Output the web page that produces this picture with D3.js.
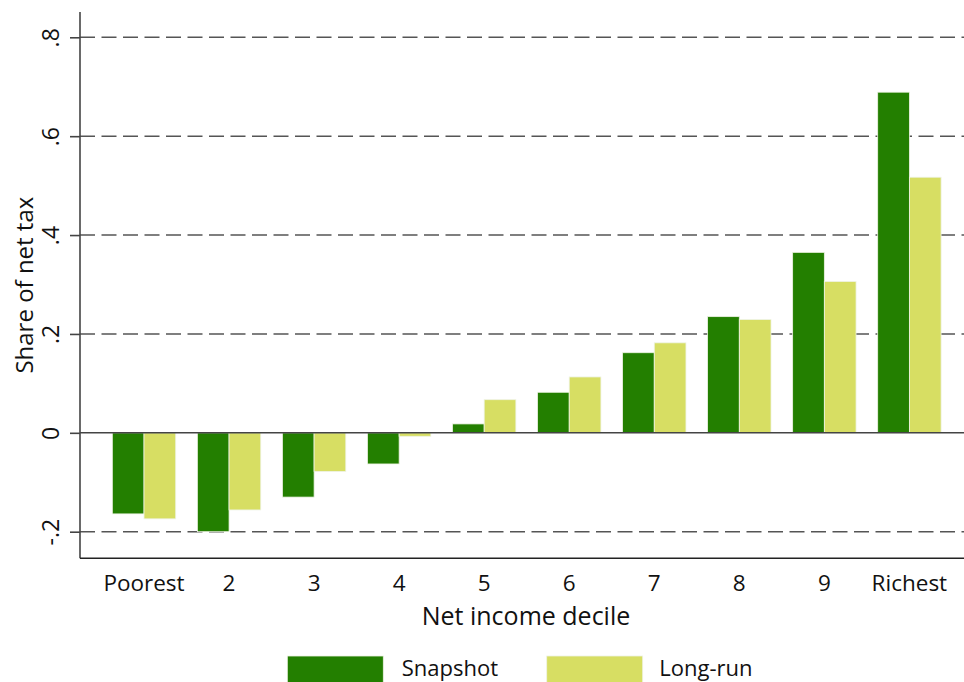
<!DOCTYPE html>
<html>
<head>
<meta charset="utf-8">
<script src="https://cdn.jsdelivr.net/npm/d3@7"></script>
<style>
  html, body { margin: 0; padding: 0; background: #fff; }
  svg { display: block; }
  text { font-family: "Open Sans", "DejaVu Sans", sans-serif; fill: #111; }
</style>
</head>
<body>
<svg id="chart" width="964" height="682"></svg>
<script>
// Net tax share by net income decile, two measures
const deciles = ["Poorest", "2", "3", "4", "5", "6", "7", "8", "9", "Richest"];
const seriesNames = ["Snapshot", "Long-run"];
const snapshot = [-0.164, -0.200, -0.130, -0.063, 0.018, 0.082, 0.162, 0.235, 0.365, 0.689];
const longRun  = [-0.174, -0.156, -0.078, -0.007, 0.067, 0.113, 0.182, 0.229, 0.306, 0.517];
const yTicks = [-0.2, 0, 0.2, 0.4, 0.6, 0.8];
const yTickLabels = ["-.2", "0", ".2", ".4", ".6", ".8"];
const colors = ["#237f00", "#d7de63"];

const svg = d3.select("#chart");
const W = 964;

// plot region
const plotLeft = 80, plotTop = 12, plotBottom = 558.3, plotRight = 973.4;

const y = d3.scaleLinear().domain([-0.2, 0.8]).range([531.7, 37.3]);

const x = d3.scaleBand()
  .domain(deciles)
  .range([plotLeft, plotRight])
  .paddingInner(0.2545)
  .paddingOuter(0.38);

const xSub = d3.scaleBand()
  .domain(seriesNames)
  .range([0, x.bandwidth()]);

const rows = deciles.map((d, i) => ({ decile: d, values: [snapshot[i], longRun[i]] }));

// dashed gridlines (zero drawn later as a solid line)
svg.append("g")
  .selectAll("line")
  .data(yTicks.filter(v => v !== 0))
  .join("line")
  .attr("x1", plotLeft).attr("x2", W)
  .attr("y1", d => y(d)).attr("y2", d => y(d))
  .attr("stroke", "#555")
  .attr("stroke-width", 1.6)
  .attr("stroke-dasharray", "15,6.5");

// bars
const groups = svg.append("g")
  .selectAll("g")
  .data(rows)
  .join("g")
  .attr("transform", d => `translate(${x(d.decile)},0)`);

groups.selectAll("rect")
  .data(d => d.values.map((v, j) => ({ key: seriesNames[j], value: v, idx: j })))
  .join("rect")
  .attr("x", d => xSub(d.key))
  .attr("width", xSub.bandwidth())
  .attr("y", d => Math.min(y(d.value), y(0)))
  .attr("height", d => Math.abs(y(d.value) - y(0)))
  .attr("fill", d => colors[d.idx])
  .attr("stroke", "#eef3e4")
  .attr("stroke-width", 0.8);

// zero line
svg.append("line")
  .attr("x1", plotLeft).attr("x2", W)
  .attr("y1", y(0)).attr("y2", y(0))
  .attr("stroke", "#444")
  .attr("stroke-width", 1.6);

// y axis
const yAxis = d3.axisLeft(y)
  .tickValues(yTicks)
  .tickSize(10)
  .tickFormat((d, i) => yTickLabels[i]);

const yg = svg.append("g")
  .attr("transform", `translate(${plotLeft},0)`)
  .call(yAxis);
yg.select(".domain").remove();
yg.selectAll(".tick line").attr("stroke", "#444").attr("stroke-width", 1.6);
yg.selectAll(".tick text")
  .attr("x", null).attr("dy", null)
  .attr("transform", "translate(-21.5,0) rotate(-90)")
  .attr("text-anchor", "middle")
  .style("font-size", "23px")
  .style("fill", "#111");

svg.append("line")
  .attr("x1", plotLeft).attr("x2", plotLeft)
  .attr("y1", plotTop).attr("y2", plotBottom)
  .attr("stroke", "#444").attr("stroke-width", 1.6);

// x axis
const xAxis = d3.axisBottom(x).tickSize(0).tickPadding(0);
const xg = svg.append("g")
  .attr("transform", `translate(0,${plotBottom})`)
  .call(xAxis);
xg.select(".domain").remove();
xg.selectAll(".tick text")
  .attr("y", 32.5).attr("dy", null)
  .style("font-size", "22.5px")
  .style("fill", "#111");

svg.append("line")
  .attr("x1", plotLeft).attr("x2", W)
  .attr("y1", plotBottom).attr("y2", plotBottom)
  .attr("stroke", "#222").attr("stroke-width", 1.6);

// axis titles
svg.append("text")
  .attr("x", 526).attr("y", 625)
  .attr("text-anchor", "middle")
  .style("font-size", "25px")
  .text("Net income decile");

svg.append("text")
  .attr("transform", `translate(33,${(plotTop + plotBottom) / 2}) rotate(-90)`)
  .attr("text-anchor", "middle")
  .style("font-size", "24px")
  .text("Share of net tax");

// legend
const legendItems = [
  { name: seriesNames[0], color: colors[0], rx: 287.3, tx: 401.7 },
  { name: seriesNames[1], color: colors[1], rx: 546.7, tx: 659.3 }
];
const lg = svg.append("g");
legendItems.forEach(it => {
  lg.append("rect")
    .attr("x", it.rx).attr("y", 656)
    .attr("width", 96).attr("height", 40)
    .attr("fill", it.color)
    .attr("stroke", "#eef3e4").attr("stroke-width", 0.8);
  lg.append("text")
    .attr("x", it.tx).attr("y", 675.5)
    .style("font-size", "22px")
    .text(it.name);
});
</script>
</body>
</html>
